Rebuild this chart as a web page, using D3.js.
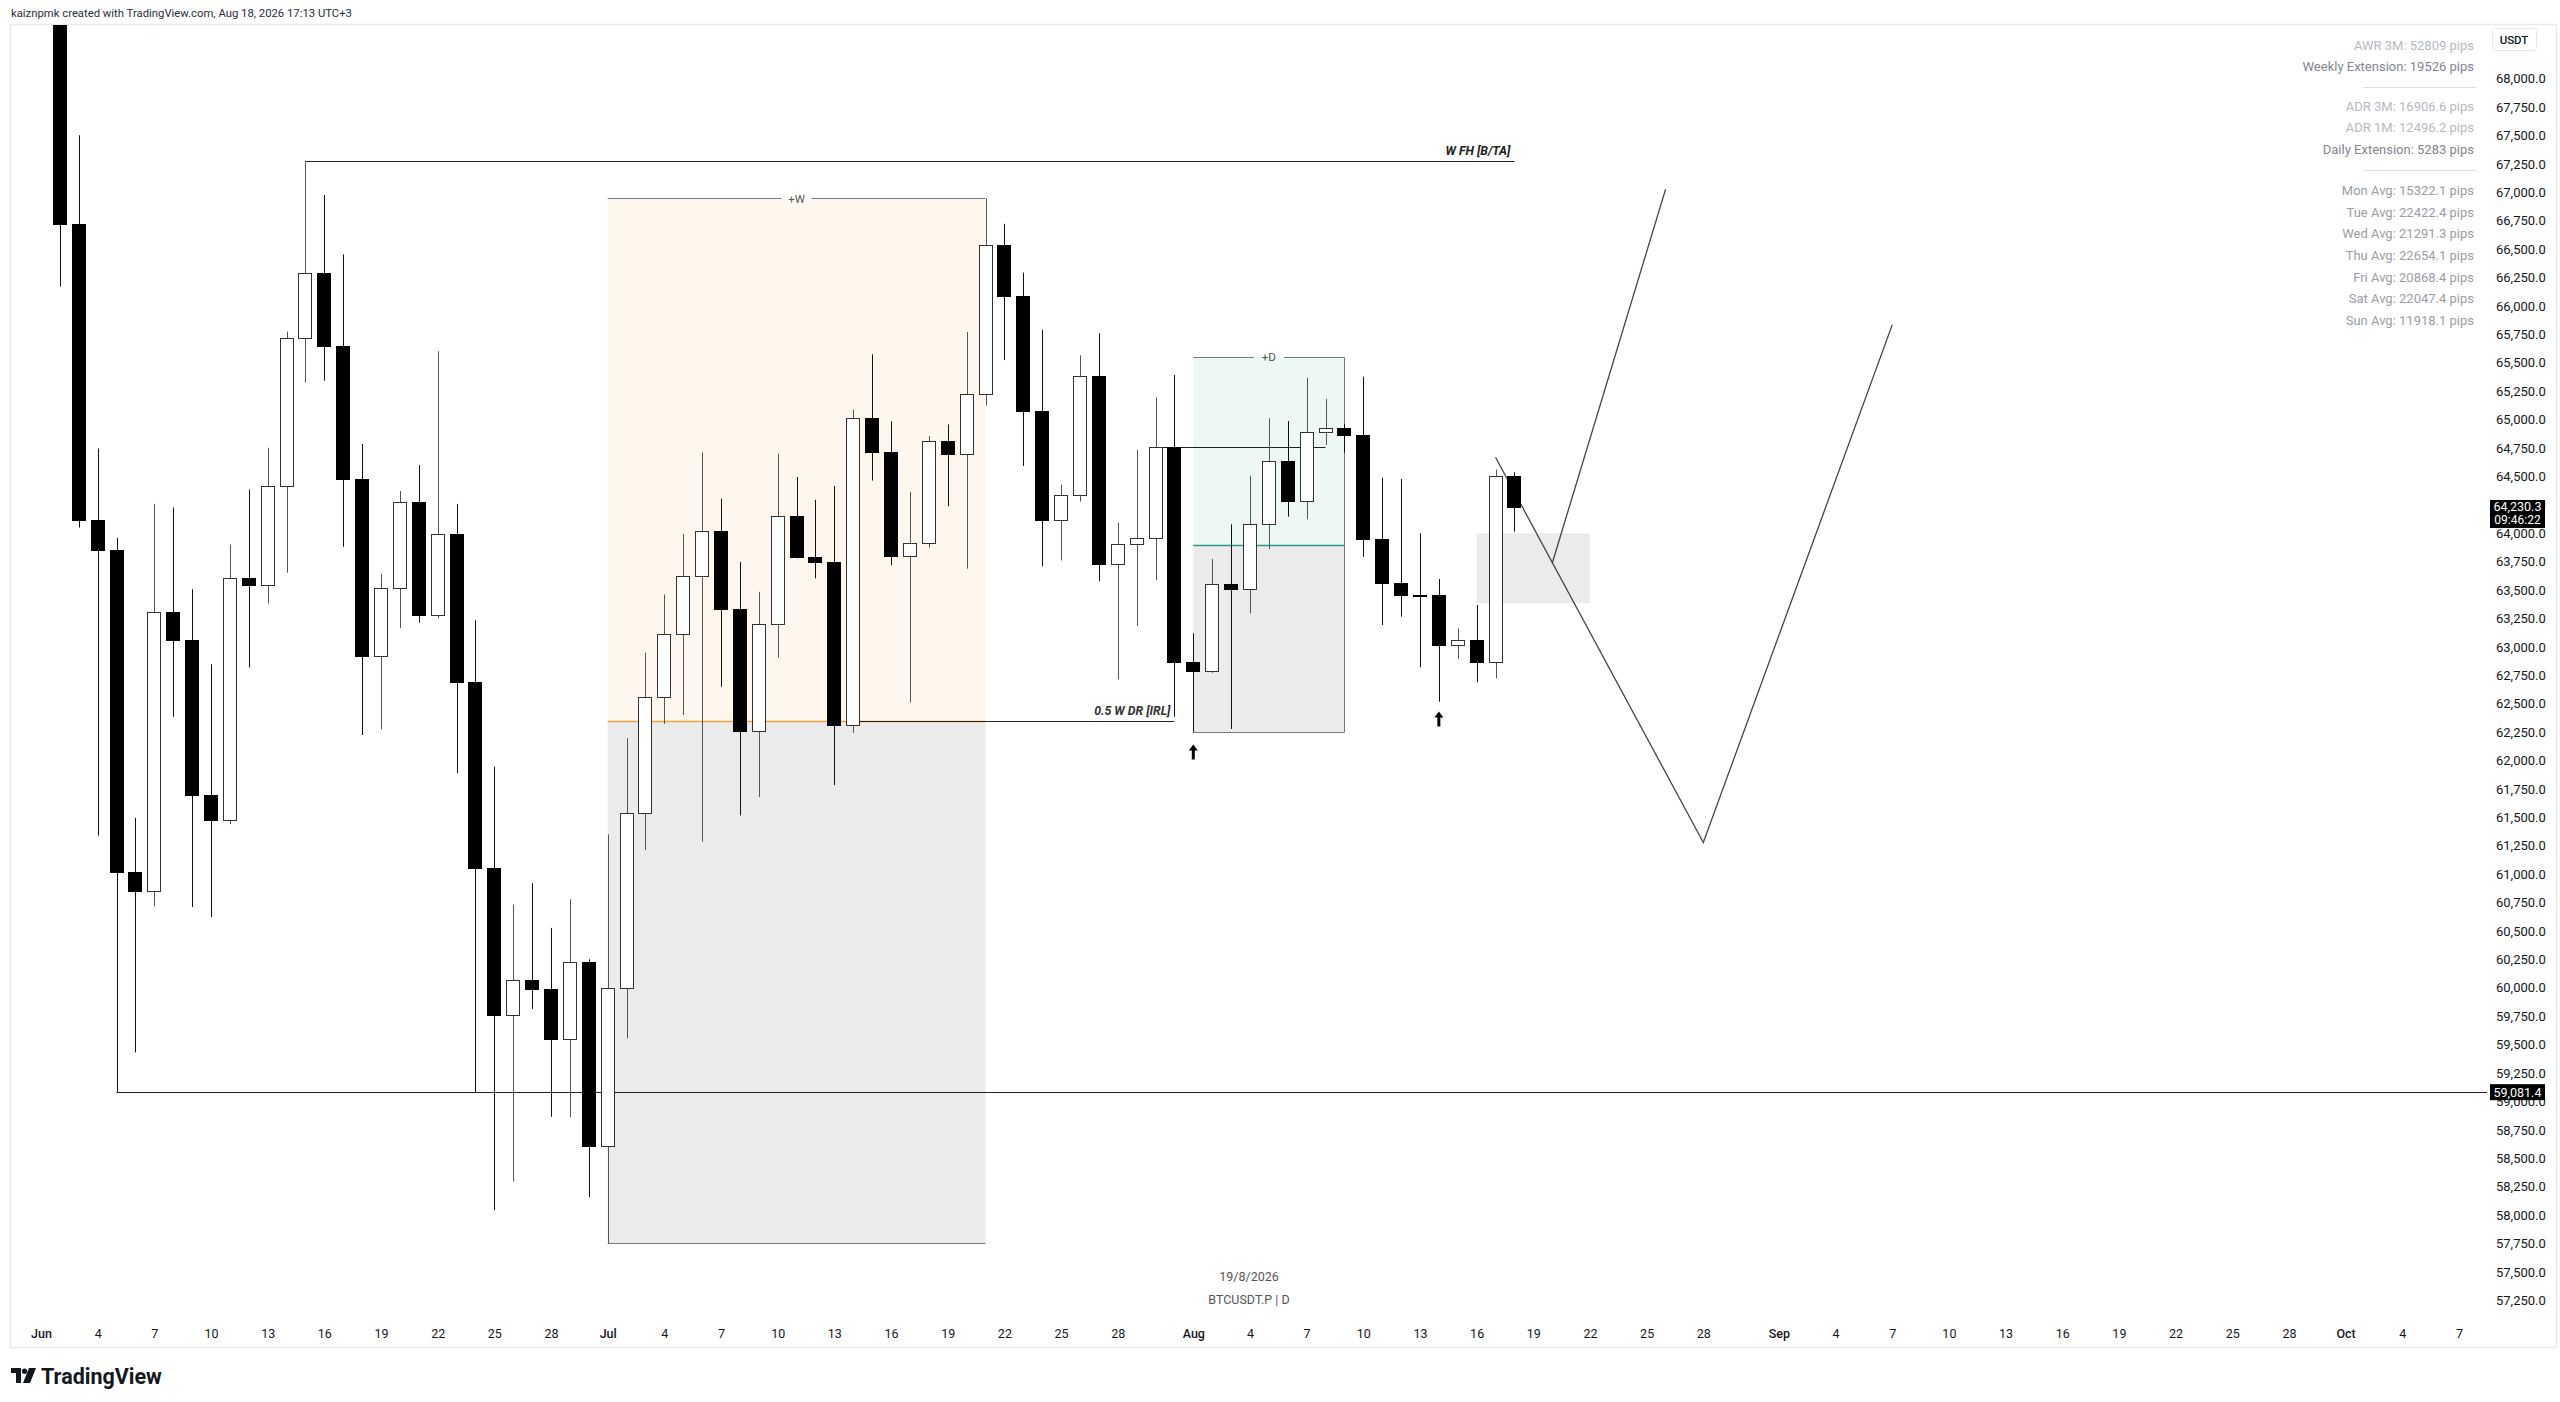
<!DOCTYPE html>
<html><head><meta charset="utf-8">
<script src="https://cdn.jsdelivr.net/npm/d3@7"></script>
<style>
html,body{margin:0;padding:0;background:#fff;}
svg{display:block;}
text{font-family:Roboto,"Liberation Sans",sans-serif;}
</style></head><body>
<svg id="c" width="2560" height="1402"></svg>
<script>
// ---------- data ----------
const dates = ["2026-06-02","2026-06-03","2026-06-04","2026-06-05","2026-06-06","2026-06-07","2026-06-08","2026-06-09","2026-06-10","2026-06-11",
"2026-06-12","2026-06-13","2026-06-14","2026-06-15","2026-06-16","2026-06-17","2026-06-18","2026-06-19","2026-06-20","2026-06-21",
"2026-06-22","2026-06-23","2026-06-24","2026-06-25","2026-06-26","2026-06-27","2026-06-28","2026-06-29","2026-06-30","2026-07-01",
"2026-07-02","2026-07-03","2026-07-04","2026-07-05","2026-07-06","2026-07-07","2026-07-08","2026-07-09","2026-07-10","2026-07-11",
"2026-07-12","2026-07-13","2026-07-14","2026-07-15","2026-07-16","2026-07-17","2026-07-18","2026-07-19","2026-07-20","2026-07-21",
"2026-07-22","2026-07-23","2026-07-24","2026-07-25","2026-07-26","2026-07-27","2026-07-28","2026-07-29","2026-07-30","2026-07-31",
"2026-08-01","2026-08-02","2026-08-03","2026-08-04","2026-08-05","2026-08-06","2026-08-07","2026-08-08","2026-08-09","2026-08-10",
"2026-08-11","2026-08-12","2026-08-13","2026-08-14","2026-08-15","2026-08-16","2026-08-17","2026-08-18"];
const open = [69200,66724,64116,63849,61021,60851,63306,63059,61700,61473,
63606,63547,64419,65715,66292,65648,64481,62918,63515,64274,
63279,63995,62694,61055,59761,60072,59993,59553,60226,58604,
59995,61536,62558,63111,63622,64023,63331,62255,63202,64149,
63787,63744,62314,65013,64718,63795,63916,64808,64699,65228,
66532,66084,65072,64117,64333,65386,63727,63902,63960,64758,
62864,62790,63550,63506,64084,64633,64286,64888,64928,64864,
63949,63559,63460,63455,63016,63060,62869,64503];
const high = [69450,67502,64744,63959,61495,64258,64226,63507,62847,63900,
64384,64752,65774,67278,66976,66453,64784,63644,64371,64599,
65601,64258,63233,61945,60732,60920,60527,60779,60251,61350,
62196,62950,63461,63995,64710,64305,63747,63484,64699,64494,
64294,64415,65088,65574,64985,64364,64855,64957,65770,66945,
66722,66293,65791,64428,65566,65759,64092,64732,65196,65392,
63119,63773,64078,64506,65011,64987,65368,65181,64960,65377,
64488,64477,63999,63597,63163,63368,64560,64536];
const low = [66171,64049,61338,59081.4,59431,60716,62384,60710,60622,61440,
62820,63381,63652,65326,65342,63880,62224,62274,63166,63213,
63250,61888,59075,58045,58296,59814,58865,58862,58158,57752,
59555,61212,62322,62400,61286,62648,61517,61678,62903,63779,
63602,61783,62243,64463,63717,62510,63873,64238,63688,65123,
65523,64592,63709,63760,64278,63578,62714,63183,63588,62385,
62248,62770,62277,63295,63858,64145,64122,64776,64708,63793,
63192,63265,62820,62517,62893,62688,62723,64013];
const close = [66724,64116,63849,61021,60851,63306,63059,61700,61473,63606,
63547,64419,65715,66292,65648,64481,62918,63515,64274,63279,
63995,62694,61055,59761,60072,59993,59553,60226,58604,59995,
61536,62558,63111,63622,64023,63331,62255,63202,64149,63787,
63744,62314,65013,64718,63795,63916,64808,64699,65228,66532,
66084,65072,64117,64333,65386,63727,63902,63960,64758,62864,
62790,63550,63506,64084,64633,64286,64888,64928,64864,63949,
63559,63460,63455,63016,63060,62869,64503,64230.3];

const priceTicks = d3.range(57250, 68001, 250);
const timeTicks = ["2026-06-01","2026-06-04","2026-06-07","2026-06-10","2026-06-13","2026-06-16","2026-06-19","2026-06-22","2026-06-25","2026-06-28",
"2026-07-01","2026-07-04","2026-07-07","2026-07-10","2026-07-13","2026-07-16","2026-07-19","2026-07-22","2026-07-25","2026-07-28",
"2026-08-01","2026-08-04","2026-08-07","2026-08-10","2026-08-13","2026-08-16","2026-08-19","2026-08-22","2026-08-25","2026-08-28",
"2026-09-01","2026-09-04","2026-09-07","2026-09-10","2026-09-13","2026-09-16","2026-09-19","2026-09-22","2026-09-25","2026-09-28",
"2026-10-01","2026-10-04","2026-10-07"];
const monthNames = ["Jan","Feb","Mar","Apr","May","Jun","Jul","Aug","Sep","Oct","Nov","Dec"];

const infoLabels = ["AWR 3M: 52809 pips","Weekly Extension: 19526 pips","ADR 3M: 16906.6 pips","ADR 1M: 12496.2 pips","Daily Extension: 5283 pips",
"Mon Avg: 15322.1 pips","Tue Avg: 22422.4 pips","Wed Avg: 21291.3 pips","Thu Avg: 22654.1 pips","Fri Avg: 20868.4 pips","Sat Avg: 22047.4 pips","Sun Avg: 11918.1 pips"];
const infoTone = ["light","dark","light","light","dark","mid","mid","mid","mid","mid","mid","mid"];

// drawings (date / price anchors)
const wfh = {from:"2026-06-15", to:"2026-08-18", price:67278, label:"W FH [B/TA]"};
const weekBox = {from:"2026-07-01", to:"2026-07-21", top:66945, bottom:57752, mid:62348, label:"+W"};
const irl = {from:"2026-07-14", to:"2026-07-31", price:62348, label:"0.5 W DR [IRL]"};
const dayBox = {from:"2026-08-01", to:"2026-08-09", top:65548, bottom:62248, mid:63898, label:"+D"};
const dLine = {from:"2026-07-30", to:"2026-08-08", price:64761};
const lowRay = {from:"2026-06-05", price:59081.4};
const arrowsUp = [["2026-08-01",62140],["2026-08-14",62430]];
const zone = {from:"2026-08-16", to:"2026-08-22", top:63999, bottom:63384};
const pathA = [["2026-08-17",64668],["2026-08-28",61278],["2026-09-07",65833]];
const pathB = [["2026-08-20",63735],["2026-08-26",67025]];
const lastPrice = 64230.3, countdown = "09:46:22";
const symbolText = "BTCUSDT.P | D", dateText = "19/8/2026";

// ---------- layout ----------
const W = 2560, H = 1402;
const plot = {l:10, r:2487, t:25, b:1318};
const pd = s => new Date(s + "T00:00:00Z");
const x = d3.scaleUtc().domain([pd("2026-06-01"), pd("2026-10-07")]).range([41, 41 + 128*18.89]);
const y = d3.scaleLinear().domain([57250, 68000]).range([1300.3, 78.6]);
const cr = v => Math.round(v) + 0.5;
const fmt = d3.format(",.1f");

const svg = d3.select("#c");
svg.append("rect").attr("width",W).attr("height",H).attr("fill","#fff");

// header
svg.append("text").attr("x",11).attr("y",17).attr("font-size",11.3).attr("fill","#2a2e39")
  .text("kaiznpmk created with TradingView.com, Aug 18, 2026 17:13 UTC+3");

// frame
svg.append("rect").attr("x",10.5).attr("y",24.5).attr("width",2546).attr("height",1323)
  .attr("fill","#fff").attr("stroke","#e9ebef").attr("stroke-width",1.5);

const defs = svg.append("defs");
defs.append("clipPath").attr("id","clip").append("rect")
  .attr("x",plot.l+1).attr("y",plot.t).attr("width",plot.r-plot.l-1).attr("height",plot.b-plot.t);
const g = svg.append("g").attr("clip-path","url(#clip)");

// ---- boxes ----
function box(b, topFill, lowFill, midColor){
  const x0 = x(pd(b.from)), x1 = x(pd(b.to));
  g.append("rect").attr("x",x0).attr("y",y(b.top)).attr("width",x1-x0).attr("height",y(b.mid)-y(b.top)).attr("fill",topFill);
  g.append("rect").attr("x",x0).attr("y",y(b.mid)).attr("width",x1-x0).attr("height",y(b.bottom)-y(b.mid)).attr("fill",lowFill);
  g.append("line").attr("x1",x0).attr("x2",x1).attr("y1",cr(y(b.mid))).attr("y2",cr(y(b.mid))).attr("stroke",midColor).attr("stroke-width",1.3);
  const cx = (x0+x1)/2, gap = 15;
  g.append("line").attr("x1",x0).attr("x2",cx-gap).attr("y1",cr(y(b.top))).attr("y2",cr(y(b.top))).attr("stroke","#7a7a7a");
  g.append("line").attr("x1",cx+gap).attr("x2",x1).attr("y1",cr(y(b.top))).attr("y2",cr(y(b.top))).attr("stroke","#7a7a7a");
  g.append("text").attr("x",cx).attr("y",y(b.top)).attr("dy","0.35em").attr("text-anchor","middle")
    .attr("font-size",11.5).attr("fill","#555").text(b.label);
  g.append("line").attr("x1",x0).attr("x2",x1).attr("y1",cr(y(b.bottom))).attr("y2",cr(y(b.bottom))).attr("stroke","#7a7a7a");
  return [x0,x1];
}
box(weekBox, "#fff7ed", "#ebebeb", "#f4a33c");
const [dx0, dx1] = box(dayBox, "#edf7f4", "#ebebeb", "#2a9d84");
g.append("line").attr("x1",cr(dx1)).attr("x2",cr(dx1)).attr("y1",y(dayBox.top)).attr("y2",y(dayBox.bottom)).attr("stroke","#7a7a7a");

// zone
g.append("rect").attr("x",x(pd(zone.from))).attr("y",y(zone.top))
  .attr("width",x(pd(zone.to))-x(pd(zone.from))).attr("height",y(zone.bottom)-y(zone.top)).attr("fill","#ebebeb");

// horizontal level lines
const labelFont = sel => sel.attr("font-family","DejaVu Sans").attr("font-weight","bold").attr("font-style","italic").attr("font-size",12.3);
g.append("line").attr("x1",x(pd(wfh.from))).attr("x2",x(pd(wfh.to))).attr("y1",cr(y(wfh.price))).attr("y2",cr(y(wfh.price))).attr("stroke","#222");
g.append("text").attr("x",x(pd(wfh.to))-4).attr("y",y(wfh.price)-6).attr("text-anchor","end").call(labelFont).attr("fill","#222").text(wfh.label);
g.append("line").attr("x1",x(pd(irl.from))).attr("x2",x(pd(irl.to))).attr("y1",cr(y(irl.price))).attr("y2",cr(y(irl.price))).attr("stroke","#222");
g.append("text").attr("x",x(pd(irl.to))-4).attr("y",y(irl.price)-6).attr("text-anchor","end").call(labelFont).attr("fill","#333").text(irl.label);
g.append("line").attr("x1",x(pd(dLine.from))).attr("x2",x(pd(dLine.to))).attr("y1",cr(y(dLine.price))).attr("y2",cr(y(dLine.price))).attr("stroke","#222");
g.append("line").attr("x1",x(pd(lowRay.from))).attr("x2",plot.r).attr("y1",cr(y(lowRay.price))).attr("y2",cr(y(lowRay.price))).attr("stroke","#222");

// projection paths
const line = d3.line().x(d => x(pd(d[0]))).y(d => y(d[1]));
g.append("path").attr("d",line(pathA)).attr("fill","none").attr("stroke","#444").attr("stroke-width",1.3);
g.append("path").attr("d",line(pathB)).attr("fill","none").attr("stroke","#444").attr("stroke-width",1.3);

// ---- candles ----
const bw = 14;
const candles = dates.map((d,i) => ({d:pd(d), o:open[i], h:high[i], l:low[i], c:close[i]}));
const cg = g.append("g");
candles.forEach(k => {
  const cx = cr(x(k.d));
  const up = k.c >= k.o;
  cg.append("line").attr("x1",cx).attr("x2",cx).attr("y1",y(k.h)).attr("y2",y(k.l))
    .attr("stroke", up ? "#555" : "#111").attr("stroke-width",1);
  const top = y(Math.max(k.o,k.c)), bot = y(Math.min(k.o,k.c));
  cg.append("rect").attr("x",Math.round(x(k.d)) - bw/2 + 0.5).attr("y",Math.round(top)+0.5)
    .attr("width",bw-1).attr("height",Math.max(1, Math.round(bot)-Math.round(top)))
    .attr("fill", up ? "#fff" : "#000").attr("stroke", up ? "#333" : "#000").attr("stroke-width",1);
});

// arrows
arrowsUp.forEach(a => {
  const ax = x(pd(a[0])), ay = y(a[1]);
  g.append("path").attr("d",`M${ax},${ay} l-4.5,6 h3 v9 h3 v-9 h3 z`).attr("fill","#000");
});

// bottom centre texts
svg.append("text").attr("x",1249).attr("y",1277).attr("dy","0.35em").attr("text-anchor","middle")
  .attr("font-size",12.5).attr("fill","#555").text(dateText);
svg.append("text").attr("x",1249).attr("y",1300).attr("dy","0.35em").attr("text-anchor","middle")
  .attr("font-size",12.5).attr("fill","#555").text(symbolText);

// ---- info panel ----
const toneColor = {light:"#b6b9c0", dark:"#83868e", mid:"#9a9da5"};
const infoY = [45,66,106,127,149,190,212,233,255,277,298,320];
infoLabels.forEach((t,i) => {
  svg.append("text").attr("x",2474).attr("y",infoY[i]).attr("dy","0.35em").attr("text-anchor","end")
    .attr("font-size",13).attr("fill",toneColor[infoTone[i]]).text(t);
});
[87,170].forEach(v => svg.append("line").attr("x1",2363).attr("x2",2476).attr("y1",v+0.5).attr("y2",v+0.5).attr("stroke","#dcdee3"));

// ---- price axis ----
const yAxis = d3.axisRight(y).tickValues(priceTicks).tickFormat(fmt).tickSize(0).tickPadding(0);
const ya = svg.append("g").attr("transform",`translate(2496,0)`).call(yAxis);
ya.select(".domain").remove();
ya.selectAll("text").attr("font-size",13).attr("fill","#131722").attr("font-family","Roboto");

// USDT box
svg.append("rect").attr("x",2492.5).attr("y",28.5).attr("width",44).attr("height",22).attr("rx",3)
  .attr("fill","#fff").attr("stroke","#e3e5ea");
svg.append("text").attr("x",2514).attr("y",40).attr("dy","0.35em").attr("text-anchor","middle")
  .attr("font-size",11.5).attr("font-weight",500).attr("fill","#131722").text("USDT");

// last price label
svg.append("rect").attr("x",2490).attr("y",y(lastPrice)-7).attr("width",55).attr("height",28).attr("fill","#000");
svg.append("text").attr("x",2517.5).attr("y",y(lastPrice)).attr("dy","0.35em").attr("text-anchor","middle")
  .attr("font-size",12.5).attr("fill","#fff").text(fmt(lastPrice));
svg.append("text").attr("x",2517.5).attr("y",y(lastPrice)+13).attr("dy","0.35em").attr("text-anchor","middle")
  .attr("font-size",12).attr("fill","#fff").text(countdown);
// ray price label
svg.append("rect").attr("x",2490).attr("y",y(lowRay.price)-8).attr("width",55).attr("height",16).attr("fill","#000");
svg.append("text").attr("x",2517.5).attr("y",y(lowRay.price)).attr("dy","0.35em").attr("text-anchor","middle")
  .attr("font-size",12.5).attr("fill","#fff").text(fmt(lowRay.price));

// ---- time axis ----
const xAxis = d3.axisBottom(x).tickValues(timeTicks.map(pd)).tickSize(0).tickPadding(0)
  .tickFormat(d => d.getUTCDate() === 1 ? monthNames[d.getUTCMonth()] : d.getUTCDate());
const xa = svg.append("g").attr("transform",`translate(0,1329)`).call(xAxis);
xa.select(".domain").remove();
xa.selectAll("text").attr("font-size",12.5).attr("fill","#131722").attr("font-family","Roboto")
  .attr("font-weight", d => d.getUTCDate() === 1 ? 500 : 400);

// ---- logo ----
const lg = svg.append("g").attr("transform","translate(11,1368)");
lg.append("path").attr("d","M0,0 H10 V15 H5 V5 H0 Z").attr("fill","#131722");
lg.append("circle").attr("cx",13.5).attr("cy",3.2).attr("r",2.6).attr("fill","#131722");
lg.append("path").attr("d","M18,0 H25 L19,15 H12 Z").attr("fill","#131722");
svg.append("text").attr("x",41).attr("y",1376).attr("dy","0.36em").attr("font-size",21.5).attr("font-weight",700)
  .attr("fill","#131722").text("TradingView");
</script></body></html>
